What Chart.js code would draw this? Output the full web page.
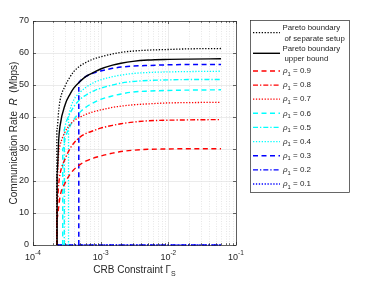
<!DOCTYPE html>
<html>
<head>
<meta charset="utf-8">
<script src="https://cdn.jsdelivr.net/npm/chart.js@4.4.1/dist/chart.umd.min.js"></script>
<style>
  html, body { margin: 0; padding: 0; background: #fff; }
  #wrap { width: 374px; height: 281px; }
</style>
</head>
<body>
<div id="wrap"><canvas id="c" width="374" height="281"></canvas></div>
<script>
// CRB constraint sample points (shared by all curves)
const crb = [2.4e-4, 2.5e-4, 3e-4, 3.5e-4, 4e-4, 5e-4, 6e-4, 8e-4, 1e-3, 1.5e-3, 2e-3, 3e-3, 5e-3, 1e-2, 2e-2, 6e-2];

// communication rate (Mbps)
const rateSeparate = [42, 45, 49.8, 52.4, 54.2, 56.0, 57.0, 58.2, 58.8, 59.7, 60.2, 60.6, 60.9, 61.1, 61.3, 61.4];
const rateUpper    = [33, 37, 44, 47, 49, 51.2, 52.6, 54, 55, 56.2, 56.8, 57.4, 57.8, 58.0, 58.1, 58.2];
const rho09 = [12, 15, 19.5, 22, 23.5, 25.2, 26.2, 27.2, 27.8, 28.7, 29.2, 29.6, 29.9, 30.0, 30.1, 30.1];
const rho08 = [19, 22, 27, 30, 31.8, 33.8, 34.8, 35.8, 36.5, 37.4, 37.9, 38.4, 38.8, 39.0, 39.1, 39.2];
const rho07 = [29, 31, 35.5, 37.5, 38.8, 40, 40.8, 41.7, 42.2, 43, 43.4, 43.8, 44.1, 44.4, 44.5, 44.6];
const rho06 = [null, null, 33.5, 37, 39.2, 41.6, 43, 44.6, 45.5, 46.6, 47.2, 47.8, 48.1, 48.3, 48.4, 48.5];
const rho05 = [null, null, 37.5, 41, 43.2, 45.6, 46.8, 48.2, 49.0, 50.0, 50.6, 51.1, 51.4, 51.6, 51.7, 51.7];
const rho04 = [null, null, null, 42, 45.3, 47.8, 49.2, 50.8, 51.6, 52.6, 53.1, 53.6, 53.9, 54.1, 54.2, 54.3];
const rho03 = [null, null, null, null, null, 51.3, 52.6, 53.8, 54.4, 55.2, 55.6, 55.9, 56.1, 56.3, 56.4, 56.4];
const rho02 = [0, 0, 0, 0, 0, 0, 0, 0, 0, 0, 0, 0, 0, 0, 0, 0];
const rho01 = [0, 0, 0, 0, 0, 0, 0, 0, 0, 0, 0, 0, 0, 0, 0, 0];

// each curve rises vertically from 0 at its feasibility limit
const curveStart = [2.25e-4, 2.27e-4, 2.25e-4, 2.25e-4, 2.25e-4, 2.75e-4, 2.9e-4, 3.35e-4, 4.75e-4, 2.3e-4, 2.3e-4];
const startTop   = [36, 22, 8, 12, 18, 30, 36, 40, 50.8, 0, 0];

const seriesLabels = [["Pareto boundary", "of separate setup"], ["Pareto boundary", "upper bound"],
  "0.9", "0.8", "0.7", "0.6", "0.5", "0.4", "0.3", "0.2", "0.1"];
const seriesData = [rateSeparate, rateUpper, rho09, rho08, rho07, rho06, rho05, rho04, rho03, rho02, rho01];

const xTicks = [1e-4, 1e-3, 1e-2, 1e-1];
const yTicks = [0, 10, 20, 30, 40, 50, 60, 70];

const DOT = [1.3, 1.6], DASH = [5, 3.5], DASHDOT = [5, 2, 1.3, 2];
const styles = [
  { c: '#000000', d: DOT, w: 1.3 },
  { c: '#000000', d: [], w: 1.4 },
  { c: '#ff0000', d: DASH, w: 1.4 },
  { c: '#ff0000', d: DASHDOT, w: 1.4 },
  { c: '#ff0000', d: DOT, w: 1.3 },
  { c: '#00ffff', d: DASH, w: 1.4 },
  { c: '#00ffff', d: DASHDOT, w: 1.4 },
  { c: '#00ffff', d: DOT, w: 1.3 },
  { c: '#0000ff', d: DASH, w: 1.5 },
  { c: '#0000ff', d: DASHDOT, w: 1.4 },
  { c: '#0000ff', d: DOT, w: 1.3 }
];

const datasets = seriesData.map((ys, i) => {
  const pts = [{ x: curveStart[i], y: 0 }, { x: curveStart[i], y: startTop[i] }];
  crb.forEach((x, j) => { if (ys[j] !== null) pts.push({ x: x, y: ys[j] }); });
  return {
    label: String(seriesLabels[i]),
    data: pts,
    borderColor: styles[i].c,
    borderDash: styles[i].d,
    borderWidth: styles[i].w,
    pointRadius: 0,
    fill: false,
    tension: 0.3,
    cubicInterpolationMode: 'monotone',
    clip: 3
  };
});

const FONT = '"Liberation Sans", Arial, Helvetica, sans-serif';
const TXT = '#262626';

const extras = {
  id: 'extras',
  beforeDatasetsDraw(chart) {
    const ctx = chart.ctx, a = chart.chartArea, sx = chart.scales.x, sy = chart.scales.y;
    ctx.save();
    ctx.lineWidth = 0.7;
    // vertical grid: decades solid, minors dotted
    for (let k = -4; k <= -1; k++) {
      for (let m = 1; m <= 9; m++) {
        const v = m * Math.pow(10, k);
        if (v < 1e-4 || v > 1e-1) continue;
        const px = Math.round(sx.getPixelForValue(v)) + 0.5;
        ctx.strokeStyle = m === 1 ? '#e3e3e3' : '#dcdcdc';
        ctx.setLineDash(m === 1 ? [] : [1, 1.5]);
        ctx.beginPath(); ctx.moveTo(px, a.top); ctx.lineTo(px, a.bottom); ctx.stroke();
      }
    }
    ctx.setLineDash([]);
    ctx.strokeStyle = '#e3e3e3';
    yTicks.forEach(v => {
      const py = Math.round(sy.getPixelForValue(v)) + 0.5;
      ctx.beginPath(); ctx.moveTo(a.left, py); ctx.lineTo(a.right, py); ctx.stroke();
    });
    ctx.restore();
  },
  afterDatasetsDraw(chart) {
    const ctx = chart.ctx, a = chart.chartArea, sx = chart.scales.x, sy = chart.scales.y;
    ctx.save();
    ctx.setLineDash([]);
    ctx.strokeStyle = TXT;
    ctx.lineWidth = 0.7;
    // box
    ctx.strokeRect(Math.round(a.left) + 0.5, Math.round(a.top) + 0.5,
      Math.round(a.right - a.left), Math.round(a.bottom - a.top));
    // tick marks
    for (let k = -4; k <= -1; k++) {
      for (let m = 1; m <= 9; m++) {
        const v = m * Math.pow(10, k);
        if (v < 1e-4 || v > 1e-1) continue;
        const px = Math.round(sx.getPixelForValue(v)) + 0.5;
        const len = m === 1 ? 3 : 1.8;
        ctx.beginPath();
        ctx.moveTo(px, a.bottom); ctx.lineTo(px, a.bottom - len);
        ctx.moveTo(px, a.top); ctx.lineTo(px, a.top + len);
        ctx.stroke();
      }
    }
    yTicks.forEach(v => {
      const py = Math.round(sy.getPixelForValue(v)) + 0.5;
      ctx.beginPath();
      ctx.moveTo(a.left, py); ctx.lineTo(a.left + 3, py);
      ctx.moveTo(a.right, py); ctx.lineTo(a.right - 3, py);
      ctx.stroke();
    });
    // y tick labels
    ctx.fillStyle = TXT;
    ctx.font = '9px ' + FONT;
    ctx.textAlign = 'right';
    ctx.textBaseline = 'middle';
    yTicks.forEach(v => ctx.fillText(String(v), a.left - 4, sy.getPixelForValue(v)));
    // x tick labels 10^k
    ctx.textBaseline = 'alphabetic';
    xTicks.forEach(v => {
      const px = sx.getPixelForValue(v);
      const exp = String(Math.round(Math.log10(v)));
      ctx.font = '9px ' + FONT;
      const w1 = ctx.measureText('10').width;
      ctx.font = '6.5px ' + FONT;
      const w2 = ctx.measureText(exp).width;
      const x0 = px - (w1 + w2) / 2;
      ctx.textAlign = 'left';
      ctx.font = '9px ' + FONT;
      ctx.fillText('10', x0, a.bottom + 15);
      ctx.font = '6.5px ' + FONT;
      ctx.fillText(exp, x0 + w1, a.bottom + 10);
    });
    // x axis title
    ctx.font = '10px ' + FONT;
    const t1 = 'CRB Constraint \u0393';
    const tw = ctx.measureText(t1).width;
    ctx.font = '7px ' + FONT;
    const sw = ctx.measureText('S').width;
    const tx = (a.left + a.right) / 2 - (tw + sw) / 2;
    ctx.font = '10px ' + FONT;
    ctx.fillText(t1, tx, 273);
    ctx.font = '7px ' + FONT;
    ctx.fillText('S', tx + tw, 276);
    // y axis title
    ctx.save();
    ctx.translate(17, (a.top + a.bottom) / 2);
    ctx.rotate(-Math.PI / 2);
    const parts = [['Communication Rate  ', '10px '], ['R', 'italic 10px '], ['  (Mbps)', '10px ']];
    let total = 0;
    parts.forEach(p => { ctx.font = p[1] + FONT; total += ctx.measureText(p[0]).width; });
    let cx = -total / 2;
    parts.forEach(p => { ctx.font = p[1] + FONT; ctx.fillText(p[0], cx, 0); cx += ctx.measureText(p[0]).width; });
    ctx.restore();

    // legend
    const L = { x: 250.5, y: 20.5, w: 99, h: 172 };
    ctx.fillStyle = '#ffffff';
    ctx.fillRect(L.x, L.y, L.w, L.h);
    ctx.strokeStyle = '#262626';
    ctx.lineWidth = 0.7;
    ctx.strokeRect(L.x, L.y, L.w, L.h);
    const rowY = [32.7, 53.3, 71, 85.1, 99.2, 113.3, 127.4, 141.6, 155.7, 169.9, 184];
    seriesLabels.forEach((lab, i) => {
      const y = rowY[i];
      ctx.strokeStyle = styles[i].c;
      ctx.lineWidth = styles[i].w;
      ctx.setLineDash(styles[i].d);
      ctx.beginPath(); ctx.moveTo(253, y); ctx.lineTo(280, y); ctx.stroke();
      ctx.setLineDash([]);
      ctx.fillStyle = TXT;
      ctx.textAlign = 'left';
      ctx.textBaseline = 'middle';
      if (Array.isArray(lab)) {
        ctx.font = '7.8px ' + FONT;
        ctx.fillText(lab[0], 282.5, y - 4.5);
        ctx.fillText(lab[1], 284.5, y + 6);
      } else {
        let x = 283;
        ctx.font = 'italic 8px ' + FONT;
        ctx.fillText('\u03c1', x, y);
        x += ctx.measureText('\u03c1').width;
        ctx.font = '5.8px ' + FONT;
        ctx.fillText('1', x, y + 3);
        x += ctx.measureText('1').width;
        ctx.font = '8px ' + FONT;
        ctx.fillText(' = ' + lab, x, y);
      }
    });
    ctx.restore();
  }
};

new Chart(document.getElementById('c'), {
  type: 'line',
  data: { datasets: datasets },
  options: {
    responsive: false,
    animation: false,
    devicePixelRatio: 1,
    layout: { padding: { left: 33, top: 21, right: 138, bottom: 36 } },
    plugins: { legend: { display: false }, tooltip: { enabled: false } },
    scales: {
      x: { type: 'logarithmic', min: 1e-4, max: 1e-1, display: false },
      y: { type: 'linear', min: 0, max: 70, display: false }
    }
  },
  plugins: [extras]
});
</script>
</body>
</html>
